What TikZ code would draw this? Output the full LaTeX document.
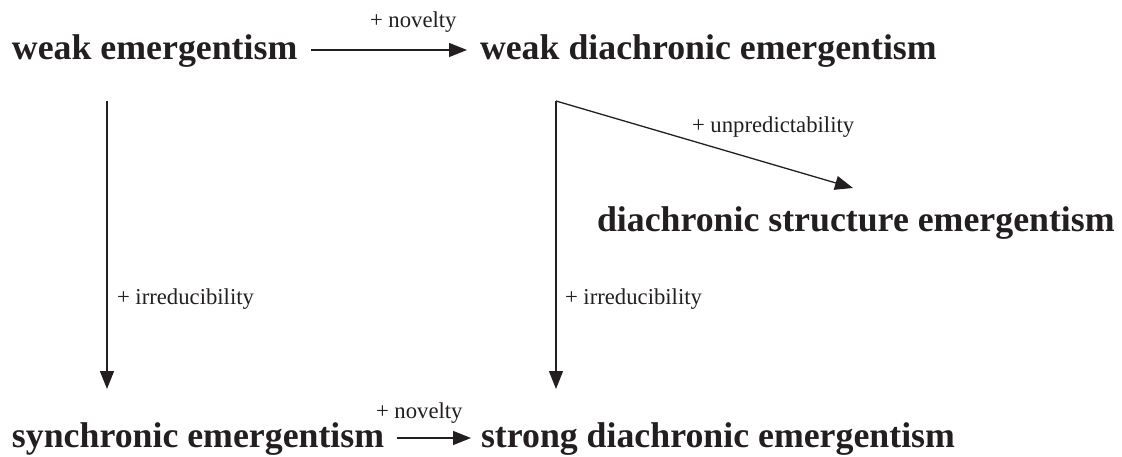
\documentclass[tikz,border=0pt]{standalone}
\usepackage{fontspec}
\setmainfont{Liberation Serif}
\usetikzlibrary{arrows.meta}
\definecolor{ink}{HTML}{231F20}
\tikzset{
  term/.style={anchor=base west, inner sep=0pt, outer sep=0pt, text=ink, font=\fontsize{35.8pt}{40pt}\selectfont\bfseries},
  lbl/.style={anchor=base west, inner sep=0pt, outer sep=0pt, text=ink, font=\fontsize{22.7pt}{26pt}\selectfont},
  link/.style={draw=ink, line width=1.3pt, -{Triangle[length=18pt,width=14pt]}},
  plain/.style={draw=ink, line width=1.3pt}
}
\begin{document}
\begin{tikzpicture}[x=1pt,y=-1pt]
\useasboundingbox (0,0) rectangle (1122,457);
% terms
\node[term] (we)  at (12,60)  {weak emergentism};
\node[term] (wde) at (480,60) {weak diachronic emergentism};
\node[term] (dse) at (597,232) {diachronic structure emergentism};
\node[term] (se)  at (12,447) {synchronic emergentism};
\node[term] (sde) at (481,447) {strong diachronic emergentism};
% labels
\node[lbl] (l1) at (370,28)  {+ novelty};
\node[lbl] (l2) at (692,133) {+ unpredictability};
\node[lbl] (l3) at (117,305) {+ irreducibility};
\node[lbl] (l4) at (565,305) {+ irreducibility};
\node[lbl] (l5) at (376,418) {+ novelty};
% connector end points
\coordinate (a1s) at (311,50);
\coordinate (a1e) at (467,50);
\coordinate (v1s) at (107,101);
\coordinate (v1e) at (107,389);
\coordinate (v2s) at (556,101);
\coordinate (v2e) at (556,389);
\coordinate (d2e) at (853,188);
\coordinate (b1s) at (397,438);
\coordinate (b1e) at (471,438);
% connectors
\draw[link] (a1s) -- (a1e);
\draw[link] (v1s) -- (v1e);
\draw[link] (v2s) -- (v2e);
\draw[link] (v2s) -- (d2e);
\draw[link] (b1s) -- (b1e);
\end{tikzpicture}
\end{document}
